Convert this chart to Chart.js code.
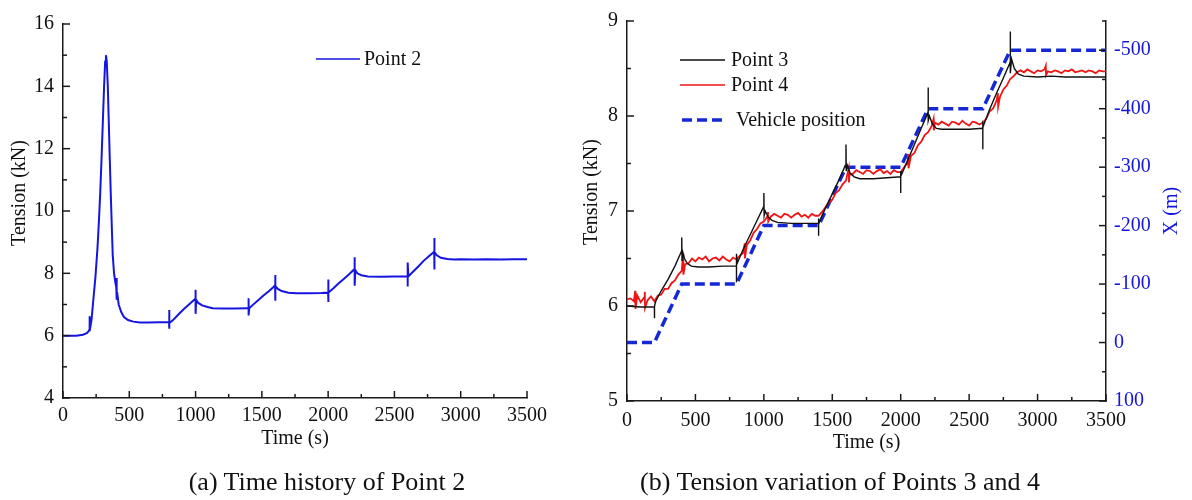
<!DOCTYPE html>
<html><head><meta charset="utf-8">
<script src="https://cdn.jsdelivr.net/npm/chart.js@4/dist/chart.umd.min.js"></script>
<style>
html,body{margin:0;padding:0;background:#fff;}
#wrap{position:relative;width:1192px;height:500px;overflow:hidden;background:#fff;}
canvas{position:absolute;top:0;}
#ca{left:0;} #cb{left:560px;}
.cap{position:absolute;font-family:"Liberation Serif","Times New Roman",serif;font-size:26px;line-height:26px;color:#111;white-space:nowrap;transform:translateX(-50%);}
</style></head><body>
<div id="wrap">
<canvas id="ca" width="560" height="500"></canvas>
<canvas id="cb" width="632" height="500"></canvas>
<div class="cap" style="left:327px;top:469px">(a) Time history of Point 2</div>
<div class="cap" style="left:840px;top:469px">(b) Tension variation of Points 3 and 4</div>
</div>
<script>
// ---- tick labels ----
const timeTicks = [0,500,1000,1500,2000,2500,3000,3500];
const timeMinor = [250,750,1250,1750,2250,2750,3250];
const tensionTicksA = [4,6,8,10,12,14,16];
const tensionMinorA = [5,7,9,11,13,15];
const tensionTicksB = [5,6,7,8,9];
const tensionMinorB = [5.5,6.5,7.5,8.5];
const positionTicks = [-500,-400,-300,-200,-100,0,100];
const positionMinor = [-550,-450,-350,-250,-150,-50,50];

// ---- (a) Point 2 ----
const t2 = [0,50,100,150,180,195,200,200,202,205,215,230,245,260,270,280,290,300,310,318,324,330,338,345,352,360,368,375,385,395,402,405,405,408,420,440,460,490,530,580,650,720,790,
 800,800,800,805,830,870,910,950,990,1000,1000,1000,1005,1020,1050,1090,1130,1200,1300,1390,
 1400,1400,1400,1405,1430,1470,1510,1550,1590,1600,1600,1600,1605,1620,1650,1700,1760,1850,1950,
 2000,2000,2000,2005,2040,2080,2120,2160,2195,2200,2200,2200,2205,2220,2250,2300,2400,2500,2590,
 2600,2600,2600,2605,2640,2680,2720,2760,2795,2800,2800,2800,2805,2820,2850,2900,2950,3000,3100,3200,3300,3400,3500];
const point2 = [6.00,6.00,6.00,6.03,6.08,6.15,6.20,6.62,6.15,6.25,6.5,7.2,7.9,8.8,9.6,10.5,11.6,12.8,14.0,14.8,15.0,14.8,14.0,12.9,11.8,10.6,9.5,8.6,8.0,7.7,7.55,7.85,7.15,7.4,7.0,6.75,6.6,6.5,6.45,6.42,6.42,6.43,6.43,
 6.42,6.82,6.22,6.4,6.5,6.68,6.85,7.0,7.15,7.2,7.47,6.7,7.15,7.05,6.97,6.92,6.88,6.87,6.87,6.88,
 6.88,7.2,6.65,6.88,6.98,7.13,7.28,7.42,7.57,7.62,7.95,7.12,7.6,7.5,7.43,7.38,7.36,7.36,7.37,
 7.38,7.08,7.8,7.38,7.52,7.68,7.83,7.98,8.12,8.15,8.52,7.6,8.1,8.0,7.94,7.9,7.89,7.9,7.9,
 7.9,7.58,8.35,7.9,8.05,8.22,8.4,8.55,8.68,8.7,9.13,8.12,8.68,8.58,8.5,8.46,8.44,8.45,8.44,8.45,8.44,8.45,8.45];

// ---- (b) Point 3 ----
const t3 = [0,100,190,200,200,202,210,250,300,350,390,400,400,402,405,420,440,470,520,600,700,790,
 800,800,800,805,850,900,950,990,1000,1000,1002,1010,1030,1060,1100,1200,1300,1395,
 1400,1400,1400,1405,1450,1500,1550,1595,1600,1600,1602,1610,1630,1660,1700,1800,1900,
 2000,2000,2000,2005,2050,2100,2150,2195,2200,2200,2202,2210,2230,2260,2300,2400,2500,
 2600,2600,2600,2605,2650,2700,2750,2795,2800,2800,2802,2810,2830,2860,2900,3000,3100,3200,3300,3400,3500];
const point3 = [6.0,5.99,5.99,5.99,5.87,6.0,6.05,6.16,6.28,6.42,6.55,6.58,6.72,6.48,6.58,6.5,6.45,6.42,6.41,6.41,6.42,6.42,
 6.42,6.25,6.55,6.45,6.6,6.75,6.9,7.02,7.05,7.19,6.95,7.0,6.94,6.9,6.88,6.87,6.87,6.87,
 6.87,6.74,6.92,6.88,7.03,7.18,7.33,7.48,7.5,7.7,7.42,7.48,7.4,7.36,7.34,7.34,7.35,
 7.36,7.19,7.42,7.38,7.53,7.7,7.87,8.02,8.05,8.3,7.95,8.0,7.92,7.87,7.86,7.86,7.86,
 7.87,7.65,7.92,7.9,8.07,8.24,8.4,8.55,8.57,8.89,8.45,8.6,8.5,8.44,8.42,8.41,8.42,8.41,8.41,8.41,8.41];

// ---- (b) Point 4 ----
const t4 = [0,25,50,60,62,75,100,125,130,132,150,175,200,225,250,275,300,325,350,375,400,410,412,425,450,475,500,525,550,575,600,625,650,675,700,725,750,775,
 800,825,850,860,862,875,900,925,950,975,1000,1025,1030,1032,1050,1075,1100,1125,1150,1175,1200,1225,1250,1275,1300,1325,1350,1375,
 1400,1425,1450,1475,1500,1525,1550,1575,1600,1620,1622,1625,1650,1675,1700,1725,1750,1775,1800,1825,1850,1875,1900,1925,1950,1975,
 2000,2025,2050,2055,2057,2075,2100,2125,2150,2175,2200,2225,2240,2242,2250,2275,2300,2325,2350,2375,2400,2425,2450,2475,2500,2525,2550,2575,
 2600,2625,2650,2675,2700,2710,2712,2725,2750,2775,2800,2825,2850,2875,2900,2925,2950,2975,3000,3025,3050,3060,3062,3075,3100,3125,3150,3175,
 3200,3225,3250,3275,3300,3325,3350,3375,3400,3425,3450,3475,3500];
const point4 = [6.07,6.08,6.05,6.16,5.97,6.11,6.04,6.09,6.15,5.98,6.06,6.10,6.05,6.11,6.12,6.18,6.18,6.24,6.27,6.33,6.37,6.55,6.33,6.44,6.45,6.50,6.47,6.51,6.49,6.52,6.47,6.50,6.51,6.48,6.52,6.49,6.47,6.51,
 6.49,6.53,6.56,6.66,6.50,6.64,6.69,6.77,6.81,6.87,6.89,6.94,6.99,6.89,6.94,6.97,6.95,6.93,6.97,6.96,6.93,6.96,6.98,6.94,6.96,6.93,6.97,6.95,
 6.95,6.99,7.04,7.09,7.12,7.19,7.22,7.28,7.32,7.45,7.30,7.38,7.39,7.43,7.41,7.39,7.43,7.42,7.39,7.42,7.44,7.40,7.42,7.39,7.43,7.41,
 7.41,7.46,7.51,7.60,7.45,7.58,7.61,7.69,7.73,7.80,7.83,7.89,7.97,7.85,7.93,7.91,7.94,7.92,7.90,7.94,7.93,7.91,7.95,7.92,7.90,7.94,7.93,7.91,
 7.93,7.97,8.05,8.08,8.16,8.24,8.10,8.20,8.28,8.32,8.39,8.42,8.46,8.48,8.46,8.49,8.47,8.45,8.48,8.47,8.49,8.53,8.43,8.47,8.46,8.48,8.47,8.45,
 8.48,8.47,8.49,8.46,8.47,8.48,8.46,8.48,8.47,8.45,8.48,8.47,8.47];

// ---- (b) Vehicle position ----
const tv = [0,200,400,800,1000,1400,1600,2000,2200,2600,2800,3500];
const vehiclePos = [0,0,-100,-100,-200,-200,-300,-300,-400,-400,-500,-500];

// ---- helpers ----
const FONT = {family:'"Liberation Serif","Times New Roman",serif', size:20};
const INK = '#111111';
const AXIS = '#1a1a1a';
const BLUE = '#1515e0';
const pts = (t,v) => t.map((x,i)=>({x:x, y:v[i]}));
const setTicks = arr => (s => { s.ticks = arr.map(v=>({value:v})); });
const fmt = v => String(v);

function inwardTicks(specs){
  return {id:'inwardTicks', afterDraw(chart){
    const ctx = chart.ctx; ctx.save(); ctx.strokeStyle = AXIS; ctx.lineWidth = 1.5;
    specs.forEach(s=>{
      const sc = chart.scales[s.id];
      const draw = (v,len)=>{
        const p = sc.getPixelForValue(v);
        ctx.beginPath();
        if (s.side==='bottom'){ ctx.moveTo(p, sc.top); ctx.lineTo(p, sc.top-len); }
        else if (s.side==='left'){ ctx.moveTo(sc.right, p); ctx.lineTo(sc.right+len, p); }
        else { ctx.moveTo(sc.left, p); ctx.lineTo(sc.left-len, p); }
        ctx.stroke();
      };
      s.major.forEach(v=>draw(v,7));
      s.minor.forEach(v=>draw(v,4));
    });
    ctx.restore();
  }};
}
function legendPlugin(items){
  return {id:'customLegend', afterDraw(chart){
    const ctx = chart.ctx; ctx.save();
    items.forEach(it=>{
      const ds = chart.data.datasets[it.ds];
      ctx.strokeStyle = ds.borderColor; ctx.lineWidth = it.lw || ds.borderWidth;
      ctx.setLineDash(ds.borderDash || []);
      ctx.beginPath(); ctx.moveTo(it.x1, it.y); ctx.lineTo(it.x2, it.y); ctx.stroke();
      ctx.setLineDash([]);
      ctx.fillStyle = INK; ctx.font = '20px ' + FONT.family;
      ctx.textBaseline = 'middle'; ctx.textAlign = 'left';
      ctx.fillText(ds.label, it.tx, it.y + 1);
    });
    ctx.restore();
  }};
}
function sideTitles(list){
  return {id:'sideTitles', afterDraw(chart){
    const ctx = chart.ctx; const a = chart.chartArea; ctx.save();
    list.forEach(t=>{
      ctx.translate(t.x, (a.top+a.bottom)/2 + t.dy);
      ctx.rotate(-Math.PI/2);
      ctx.fillStyle = t.color; ctx.font = '20px ' + FONT.family;
      ctx.textAlign = 'center'; ctx.textBaseline = 'middle';
      ctx.fillText(t.text, 0, 0);
      ctx.setTransform(1,0,0,1,0,0);
    });
    ctx.restore();
  }};
}
function xScale(h, pad){
  return {type:'linear', position:'bottom', min:0, max:3500,
    afterBuildTicks: setTicks(timeTicks), afterFit: s=>{ s.height = h; },
    grid:{display:false, drawTicks:false}, border:{display:true, color:AXIS, width:1.5},
    ticks:{padding:pad, font:FONT, color:INK, maxRotation:0, autoSkip:false, callback:fmt},
    title:{display:true, text:'Time (s)', font:FONT, color:INK, padding:0}};
}

// ---- chart (a) ----
new Chart(document.getElementById('ca'), {
  type:'line',
  data:{datasets:[{label:'Point 2', data:pts(t2, point2), borderColor:BLUE, borderWidth:2, pointRadius:0, tension:0, fill:false}]},
  options:{responsive:false, animation:false, events:[],
    layout:{padding:{left:0, top:24, right:33, bottom:49}},
    plugins:{legend:{display:false}, tooltip:{enabled:false}},
    scales:{
      x: xScale(53, 6),
      y:{type:'linear', min:4, max:16, afterBuildTicks:setTicks(tensionTicksA), afterFit:s=>{ s.width = 63; },
        grid:{display:false, drawTicks:false}, border:{display:true, color:AXIS, width:1.5},
        ticks:{padding:9, font:FONT, color:INK, callback:fmt}}
    }},
  plugins:[inwardTicks([{id:'x', side:'bottom', major:timeTicks, minor:timeMinor},{id:'y', side:'left', major:tensionTicksA, minor:tensionMinorA}]),
    legendPlugin([{ds:0, x1:316, x2:360, y:59, tx:364, lw:1.6}]),
    sideTitles([{x:20, dy:-18, text:'Tension (kN)', color:INK}])]
});

// ---- chart (b) ----
new Chart(document.getElementById('cb'), {
  type:'line',
  data:{datasets:[
    {label:'Point 3', data:pts(t3, point3), borderColor:'#111111', borderWidth:1.4, pointRadius:0, tension:0, yAxisID:'y'},
    {label:'Point 4', data:pts(t4, point4), borderColor:'#f01414', borderWidth:1.8, pointRadius:0, tension:0, yAxisID:'y'},
    {label:'Vehicle position', data:pts(tv, vehiclePos), borderColor:'#1428d6', borderWidth:3.5, borderDash:[10,5], pointRadius:0, tension:0, yAxisID:'y2'}
  ]},
  options:{responsive:false, animation:false, events:[],
    layout:{padding:{left:0, top:15, right:0, bottom:45}},
    plugins:{legend:{display:false}, tooltip:{enabled:false}},
    scales:{
      x: xScale(54, 8),
      y:{type:'linear', position:'left', min:5, max:9, afterBuildTicks:setTicks(tensionTicksB), afterFit:s=>{ s.width = 67; },
        grid:{display:false, drawTicks:false}, border:{display:true, color:AXIS, width:1.5},
        ticks:{padding:9, font:FONT, color:INK, callback:fmt}},
      y2:{type:'linear', position:'right', reverse:true, min:-550, max:100, afterBuildTicks:setTicks(positionTicks), afterFit:s=>{ s.width = 86; },
        grid:{display:false, drawTicks:false}, border:{display:true, color:AXIS, width:1.5},
        ticks:{padding:8, font:FONT, color:BLUE, callback:fmt}}
    }},
  plugins:[inwardTicks([{id:'x', side:'bottom', major:timeTicks, minor:timeMinor},{id:'y', side:'left', major:tensionTicksB, minor:tensionMinorB},{id:'y2', side:'right', major:positionTicks, minor:positionMinor}]),
    legendPlugin([{ds:0, x1:120, x2:165, y:60, tx:171, lw:1.3},{ds:1, x1:120, x2:165, y:85, tx:171, lw:1.3},{ds:2, x1:122, x2:165, y:120, tx:176}]),
    sideTitles([{x:32, dy:-19, text:'Tension (kN)', color:INK},{x:612, dy:0, text:'X (m)', color:BLUE}])]
});
</script>
</body></html>
